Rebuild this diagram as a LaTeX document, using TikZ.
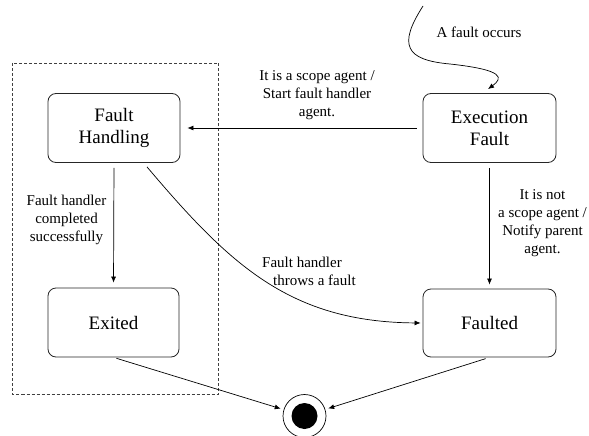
\documentclass[tikz,border=0pt]{standalone}
\usepackage{fontspec}
\setmainfont{Liberation Serif}
\usetikzlibrary{arrows.meta,calc}
\tikzset{
  statebox/.style={draw=black!85, line width=0.8pt, rounded corners=8pt, inner sep=0pt,
    align=center, font=\fontsize{19}{22}\selectfont},
  lbl/.style={inner sep=0pt, font=\fontsize{15}{18}\selectfont},
  arr/.style={draw=black, line width=0.7pt, -{Latex[length=6pt,width=5pt]}},
  group/.style={draw=black!75, line width=0.7pt, dash pattern=on 3pt off 2pt}
}
\begin{document}
\begin{tikzpicture}[x=1pt,y=-1pt]
\useasboundingbox (0,0) rectangle (589,436);
% group frame
\draw[group] (12.5,63) rectangle (218.5,394);
% states
\node[statebox, minimum width=132pt, minimum height=69pt] (fh) at (114,128) {Fault\\Handling};
\node[statebox, minimum width=133pt, minimum height=69pt] (ef) at (489.5,128) {Execution\\Fault};
\node[statebox, minimum width=131pt, minimum height=69pt] (ex) at (113.5,322.5) {Exited};
\node[statebox, minimum width=133pt, minimum height=68pt] (fd) at (489.5,323) {Faulted};
% final state
\node[circle, draw=black, line width=0.7pt, minimum size=43pt, inner sep=0pt] (fin) at (304.5,416) {};
\node[circle, fill=black, minimum size=26pt, inner sep=0pt] (fincore) at (fin) {};
% initial event
\coordinate (src) at (423,6);
\draw[arr] (src) .. controls (398,45) and (405,60) .. (450,64)
  .. controls (505,70) and (503,78) .. ($(ef.north)+(-1.5,-4)$);
\node[lbl] (lA) at (479,32) {A fault occurs};
% transitions
\draw[arr, shorten <=6pt, shorten >=7pt] (ef.west) -- (fh.east);
\node[lbl, align=center] (lB) at (317,95) {It is a scope agent /\\Start fault handler\\agent.};
\draw[arr, shorten <=5pt, shorten >=5pt] (fh.south) -- (ex.north);
\node[lbl, align=center] (lC) at (66.5,220) {Fault handler\\completed\\successfully};
\draw[arr, shorten <=5pt, shorten >=4pt] (ef.south) -- (fd.north);
\node[lbl, align=center] (lD) at (542.5,223.5) {It is not\\a scope agent /\\Notify parent\\agent.};
\draw[arr, shorten >=2pt] ($(fh.south)+(33,4)$) .. controls (230,265) and (290,322) .. (fd.west);
\node[lbl, align=left, anchor=west] (lE) at (262,271) {Fault handler\\\hspace{11pt}throws a fault};
\draw[arr, shorten <=3pt, shorten >=3pt] (ex.south) -- (fin);
\draw[arr, shorten <=4pt, shorten >=3pt] (fd.south) -- (fin);
\end{tikzpicture}
\end{document}
